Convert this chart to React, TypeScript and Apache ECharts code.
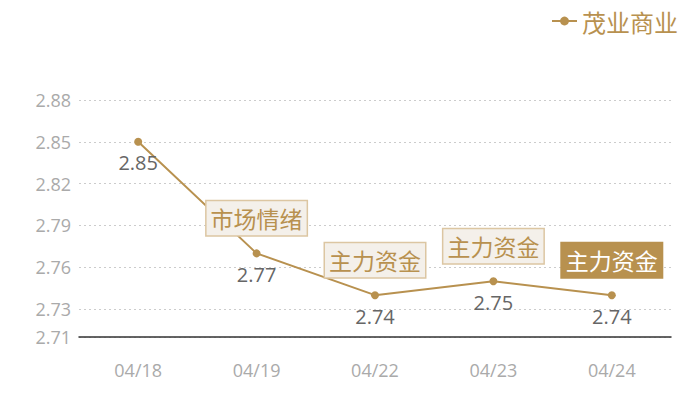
import { useEffect, useRef } from "react";
import * as echarts from "echarts";

const categories = ["04/18", "04/19", "04/22", "04/23", "04/24"];
const values = [2.85, 2.77, 2.74, 2.75, 2.74];
const seriesName = "茂业商业";

// annotation tags above points: [categoryIndex, text, highlighted]
const tags: [number, string, boolean][] = [
  [1, "市场情绪", false],
  [2, "主力资金", false],
  [3, "主力资金", false],
  [4, "主力资金", true],
];

const GOLD = "#b8914f";
const FONT = "'Open Sans', 'Noto Sans CJK SC', sans-serif";

export default function App() {
  const ref = useRef<HTMLDivElement | null>(null);

  useEffect(() => {
    document.body.style.margin = "0";
    const el = ref.current;
    if (!el) return;
    const chart = echarts.init(el, undefined, { renderer: "svg" });

    chart.setOption({
      animation: false,
      backgroundColor: "#ffffff",
      textStyle: { fontFamily: FONT },
      legend: {
        top: 4,
        right: 17,
        itemWidth: 25,
        itemHeight: 11,
        itemGap: 6,
        data: [seriesName],
        textStyle: {
          color: GOLD,
          fontSize: 24,
          fontFamily: "'Noto Sans CJK SC', sans-serif",
        },
      },
      grid: { left: 79, right: 29, top: 100, bottom: 63 },
      xAxis: {
        type: "category",
        data: categories,
        axisLine: { lineStyle: { color: "#333333", width: 1.5 } },
        axisTick: { show: false },
        axisLabel: { color: "#aaaaaa", fontSize: 18, margin: 24, fontFamily: FONT },
      },
      yAxis: {
        type: "value",
        min: 2.71,
        max: 2.88,
        splitNumber: 5,
        axisLine: { show: false },
        axisTick: { show: false },
        axisLabel: {
          color: "#aaaaaa",
          fontSize: 18,
          margin: 8,
          fontFamily: FONT,
          formatter: (v: number) => v.toFixed(2),
        },
        splitLine: { lineStyle: { color: "#cccccc", type: [2, 3] } },
      },
      series: [
        {
          name: seriesName,
          type: "line",
          data: values,
          symbol: "circle",
          symbolSize: 8,
          itemStyle: { color: GOLD },
          lineStyle: { color: GOLD, width: 2 },
          label: {
            show: true,
            position: "bottom",
            distance: 7,
            color: "#666666",
            fontSize: 20,
            fontFamily: FONT,
            formatter: (p: { value: number }) => p.value.toFixed(2),
          },
          markPoint: {
            symbol: "circle",
            symbolSize: 0,
            data: tags.map(([i, text, hl]) => ({
              coord: [categories[i], values[i]],
              value: text,
              label: {
                show: true,
                position: "inside",
                offset: [0, -35],
                formatter: text,
                fontSize: 23,
                fontFamily: "'Noto Sans CJK SC', sans-serif",
                lineHeight: 26,
                color: hl ? "#ffffff" : GOLD,
                backgroundColor: hl ? GOLD : "#f4f0ea",
                borderColor: hl ? GOLD : "#dcc6a2",
                borderWidth: 1.5,
                padding: [4, 4],
              },
            })),
          },
        },
      ],
    });

    return () => chart.dispose();
  }, []);

  return <div ref={ref} style={{ width: 700, height: 400 }} />;
}
